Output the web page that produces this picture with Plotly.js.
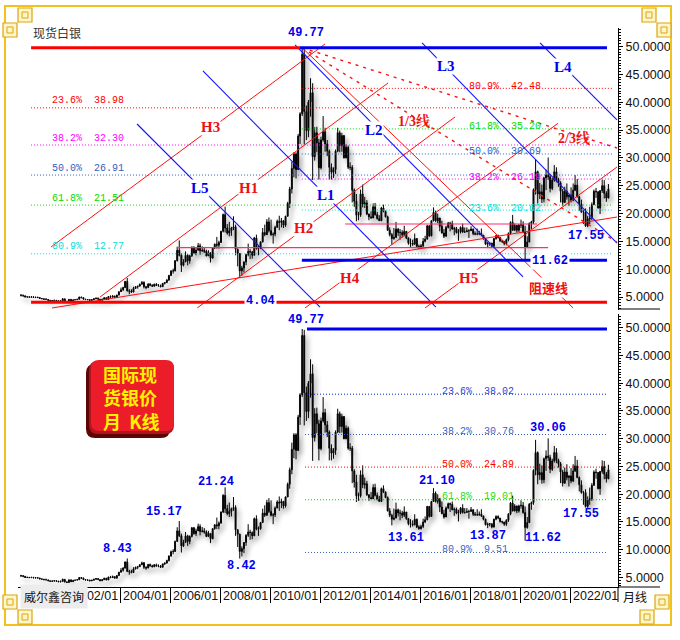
<!DOCTYPE html>
<html><head><meta charset="utf-8">
<script src="https://cdn.plot.ly/plotly-3.0.1.min.js"></script>
<style>
html,body{margin:0;padding:0;background:#fff;}
#chart{width:680px;height:640px;}
#chart .boxlayer{filter:drop-shadow(3px 4px 2.5px rgba(70,70,70,0.45));}
</style></head><body><div id="chart"></div>
<script>
// ---------- DATA (monthly silver spot, 2000-01 .. 2023-07) ----------
const startYear = 2000;
const firstOpen = 5.40;
const closes = [
5.30,5.22,5.00,5.02,4.98,5.03,4.93,4.97,4.90,4.74,4.70,4.58,
4.57,4.40,4.31,4.37,4.41,4.33,4.22,4.33,4.67,4.22,4.10,4.58,
4.24,4.49,4.53,4.60,5.00,4.88,4.62,4.55,4.55,4.39,4.50,4.68,
4.80,4.62,4.40,4.60,4.88,4.55,5.08,4.98,5.15,4.88,5.35,5.96,
6.30,6.70,7.80,6.10,6.05,5.90,6.55,6.85,6.95,7.30,7.65,6.85,
6.70,7.35,7.10,6.95,7.30,7.05,7.05,6.85,7.45,7.60,8.05,8.85,
9.65,9.70,11.50,13.40,12.50,10.70,11.30,12.50,11.50,12.40,13.95,12.90,
13.40,14.20,13.30,13.40,13.20,12.40,12.95,12.00,13.80,14.50,14.30,14.80,
16.80,19.80,17.40,16.50,16.90,17.40,17.60,13.60,12.80,9.70,10.20,11.30,
12.60,13.20,13.10,12.50,15.60,13.70,13.80,14.90,16.60,16.20,18.50,16.90,
16.20,16.30,17.50,18.60,18.40,18.70,17.90,19.50,21.80,24.40,28.10,30.70,
27.90,33.90,37.90,48.60,38.30,34.90,40.00,41.70,30.20,34.50,32.70,28.20,
33.20,34.70,32.50,31.20,28.30,27.40,27.90,31.20,34.50,32.20,34.00,30.00,
31.90,28.30,28.30,24.20,22.20,19.70,19.70,23.50,21.70,21.90,19.90,19.40,
19.20,21.20,19.80,19.10,18.70,21.00,20.40,19.40,17.00,16.20,15.50,15.70,
17.20,16.60,16.60,16.20,16.80,15.60,14.70,14.60,14.50,15.50,14.10,13.80,
14.20,15.00,15.40,17.80,16.00,18.70,20.20,18.70,19.20,17.70,16.50,15.90,
17.50,18.30,18.20,17.20,17.30,16.60,16.70,17.50,16.70,16.70,16.90,16.90,
17.20,16.40,16.30,16.30,16.40,16.10,15.50,14.50,14.60,14.70,14.10,15.50,
16.00,15.70,15.10,15.00,14.60,15.30,16.40,18.40,17.00,17.90,17.00,17.90,
18.00,16.70,14.00,14.90,18.20,18.50,24.30,27.50,23.50,23.90,22.60,26.40,
26.90,26.60,24.50,26.00,27.50,26.10,25.50,24.00,22.00,24.00,23.00,23.30,
22.40,24.20,25.10,23.00,21.70,20.30,20.30,17.80,19.00,19.20,21.60,24.00,
23.90,21.00,24.10,25.00,23.60,22.80,24.40];
const highs = [
5.45,5.45,5.20,5.15,5.10,5.10,5.10,5.00,5.05,4.95,4.80,4.70,
4.80,4.62,4.48,4.45,4.50,4.45,4.40,4.40,4.80,4.70,4.25,4.62,
4.60,4.52,4.60,4.65,5.05,5.05,5.00,4.65,4.62,4.55,4.60,4.78,
4.90,4.90,4.65,4.70,4.95,4.90,5.15,5.30,5.35,5.25,5.40,5.98,
6.70,6.85,7.90,8.43,6.40,6.40,6.85,6.95,7.00,7.40,7.85,7.80,
7.00,7.45,7.50,7.30,7.40,7.50,7.35,7.25,7.50,7.70,8.20,9.00,
9.85,10.10,11.65,14.05,15.17,12.90,11.80,13.20,12.70,12.60,14.10,14.10,
13.80,14.70,14.60,14.10,13.90,13.50,13.40,13.00,13.90,14.60,15.80,15.10,
16.90,20.00,21.24,18.10,18.50,17.60,19.50,18.00,13.70,12.90,10.60,11.40,
12.80,14.60,13.60,13.30,15.80,16.20,14.20,15.00,17.40,18.00,19.00,19.30,
18.90,16.60,17.80,18.90,19.60,19.20,18.80,19.60,22.10,24.80,29.30,31.00,
31.00,34.30,38.20,49.77,49.60,39.40,40.40,44.30,43.40,35.50,35.60,33.40,
33.80,37.50,35.40,33.20,31.50,29.00,28.30,31.50,35.40,34.90,34.50,33.90,
32.40,32.20,29.20,28.70,24.50,23.50,20.30,24.30,25.20,23.00,22.40,20.00,
20.40,21.80,21.90,20.30,19.70,21.20,21.60,20.50,19.60,17.50,16.50,17.40,
18.50,17.40,17.20,17.00,17.80,16.80,15.70,15.50,15.30,16.40,15.60,14.40,
14.50,15.60,16.00,17.90,17.70,18.80,21.10,20.50,20.00,19.20,18.70,17.20,
17.80,18.50,18.50,18.70,17.60,17.60,17.20,17.70,18.20,17.50,17.50,17.20,
17.70,17.30,16.80,17.30,16.90,17.30,16.10,15.60,14.90,14.80,14.70,15.60,
16.20,16.20,15.60,15.20,15.00,15.50,16.60,18.60,19.75,18.20,17.90,18.10,
18.90,18.60,17.80,15.90,18.40,18.70,24.50,29.80,27.70,25.50,25.20,26.60,
27.90,30.06,27.10,26.40,28.70,28.30,26.40,25.80,24.40,24.80,25.40,23.40,
24.70,25.40,26.90,26.20,23.20,22.50,20.60,20.90,19.60,21.20,22.00,24.30,
24.60,24.00,24.20,26.10,26.00,24.00,25.30];
const lows = [
5.10,5.05,4.95,4.95,4.90,4.90,4.90,4.82,4.85,4.70,4.60,4.55,
4.52,4.38,4.30,4.28,4.30,4.30,4.20,4.12,4.18,4.10,4.05,4.10,
4.20,4.20,4.45,4.50,4.55,4.80,4.55,4.45,4.40,4.35,4.40,4.50,
4.60,4.55,4.35,4.40,4.55,4.50,4.55,4.90,4.95,4.85,4.85,5.30,
5.90,6.05,6.60,6.00,5.50,5.75,5.85,6.45,6.50,6.90,7.25,6.55,
6.40,6.70,6.95,6.80,6.85,7.00,6.85,6.75,6.80,7.25,7.50,7.90,
8.80,9.20,9.60,11.40,12.30,9.50,10.50,11.30,10.70,11.00,12.20,12.70,
12.50,13.40,12.60,13.10,12.90,12.30,12.40,11.20,11.90,13.60,13.70,13.70,
14.70,16.60,16.60,16.20,15.90,16.00,17.00,12.50,10.50,8.42,8.80,9.40,
10.70,12.30,11.80,11.90,12.50,13.50,12.50,13.60,14.80,15.90,16.60,16.60,
16.00,14.60,15.90,17.50,17.00,17.50,17.40,17.60,19.50,21.00,23.60,26.50,
26.30,27.80,32.50,37.50,32.40,33.20,33.70,37.40,26.00,29.50,31.00,26.10,
27.90,32.90,31.10,30.30,26.10,26.10,26.40,27.10,31.00,31.00,31.10,29.90,
29.90,28.00,27.80,22.00,21.20,18.60,18.80,19.40,21.10,21.00,19.70,18.80,
19.10,19.30,19.60,18.90,18.70,18.70,20.20,19.30,16.90,15.90,14.40,15.30,
15.70,16.00,15.30,15.70,15.90,15.40,14.40,14.00,14.20,14.40,13.90,13.61,
13.65,13.90,14.80,15.30,15.80,15.90,18.60,18.50,18.30,16.80,16.40,15.60,
15.90,17.30,16.80,17.10,16.10,16.40,15.10,16.40,16.50,16.50,16.70,15.60,
16.90,16.10,16.10,16.10,16.10,15.90,15.30,14.40,13.90,14.20,13.87,14.00,
15.30,15.50,14.90,14.70,14.30,14.30,15.00,16.20,16.90,16.90,16.60,16.70,
17.40,16.50,11.62,13.80,14.80,17.20,18.10,23.40,21.80,22.60,21.90,22.00,
24.20,26.00,23.80,24.20,25.70,25.60,24.80,22.00,21.40,21.90,22.50,21.40,
22.00,22.20,24.00,22.90,20.50,20.10,18.10,17.60,17.55,18.10,18.80,21.50,
22.80,20.90,19.90,23.70,22.70,22.10,22.70];

// axis ticks
const tickDates  = ['2002-01-01','2004-01-01','2006-01-01','2008-01-01','2010-01-01','2012-01-01','2014-01-01','2016-01-01','2018-01-01','2020-01-01','2022-01-01'];
const tickLabels = ['2002/01','2004/01','2006/01','2008/01','2010/01','2012/01','2014/01','2016/01','2018/01','2020/01','2022/01'];
const yTicks = [5,10,15,20,25,30,35,40,45,50];

// key levels
const peakHigh = 49.77, bottomLow = 4.04, low2020 = 11.62;
const pinkLevels = [13.87, 18.12];

// Fibonacci levels
const fibPctTopL = ['23.6%','38.2%','50.0%','61.8%','80.9%'];
const fibValTopL = [38.98, 32.30, 26.91, 21.51, 12.77];
const fibPctTopR = ['80.9%','61.8%','50.0%','38.2%','23.6%'];
const fibValTopR = [42.48, 35.20, 30.69, 26.19, 20.62];
const fibPctBot  = ['23.6%','38.2%','50.0%','61.8%','80.9%'];
const fibValBot  = [38.02, 30.76, 24.89, 19.01, 9.51];

// trend lines [date0, price0, date1, price1]
const redLines = {
  H3:['2001-03-28',13.98,'2012-03-14',50.45],
  H1:['2003-03-14',5.00,'2014-09-20',43.44],
  H2:['2007-02-01',3.03,'2017-05-26',37.34],
  H4:['2011-05-26',3.03,'2021-07-08',36.20],
  H5:['2016-03-14',3.03,'2023-11-17',28.35],
  base:['2001-04-12',3.03,'2023-11-17',19.37],
  zs:['2011-04-15',49.77,'2022-02-14',3.03]
};
const blueLines = {
  L5:['2004-09-05',36.08,'2012-01-01',3.2],
  L1:['2007-04-26',45.60,'2016-08-20',3.2],
  L2:['2011-01-01',50.27,'2020-02-14',8.6],
  L3:['2016-01-30',50.63,'2023-11-17',14.7],
  L4:['2020-10-19',50.63,'2023-11-17',36.8]
};
const fanLines = [
  ['2011-04-15',49.77,'2023-11-17',31.77],
  ['2011-04-15',49.77,'2023-11-17',14.87]
];

// ---------- BUILD ----------
const n = closes.length;
const dates = [], opens = [];
for (let i = 0; i < n; i++) {
  const y = startYear + Math.floor(i / 12), m = i % 12 + 1;
  dates.push(y + '-' + String(m).padStart(2, '0') + '-15');
  opens.push(i === 0 ? firstOpen : closes[i - 1]);
}
const candleStyle = {line:{color:'#000', width:1}, fillcolor:'#000'};
function candles(ya){
  return {type:'candlestick', x:dates, open:opens, high:highs, low:lows, close:closes,
    xaxis:'x', yaxis:ya, increasing:candleStyle, decreasing:candleStyle,
    whiskerwidth:0, hoverinfo:'skip', showlegend:false};
}
const data = [candles('y'), candles('y2')];

const PX = x => (x - 18) / 600;
const PY = y => (587 - y) / 559;

const shapes = [];
function hline(ya, v, x0, x1, color, width, dash){
  shapes.push({type:'line', xref:'x', yref:ya, x0:x0, x1:x1, y0:v, y1:v,
    line:{color:color, width:width, dash:dash||'solid'}});
}
function seg(ya, s, color, width, dash){
  shapes.push({type:'line', xref:'x', yref:ya, x0:s[0], y0:s[1], x1:s[2], y1:s[3],
    line:{color:color, width:width, dash:dash||'solid'}});
}
const DOT = '1px,2px';
const topLcol = ['#FF0000','#FF00FF','#2F5FC0','#00DD00','#00E0E0'];
const topRcol = ['#FF0000','#00DD00','#2F5FC0','#FF00FF','#00E0E0'];
const botCol  = ['#0022DD','#2F5FC0','#FF0000','#00CC00','#2F5FC0'];
const botTxt  = ['#1E46D8','#3366C4','#FF0000','#22DD22','#3366C4'];

// top fib lines
fibValTopL.forEach((v,i)=>hline('y', v, '2000-06-10', '2023-09-06', topLcol[i], 1, DOT));
fibValTopR.forEach((v,i)=>hline('y', v, '2011-04-10', '2023-09-06', topRcol[i], 1, DOT));
// pink levels
hline('y', pinkLevels[0], '2006-04-10', '2021-02-14', '#FF2D6F', 1.2);
hline('y', pinkLevels[1], '2013-01-01', '2020-09-05', '#FF2D6F', 1.2);
// trend lines
Object.values(redLines).forEach(s=>seg('y', s, '#FF1010', 1));
Object.values(blueLines).forEach(s=>seg('y', s, '#1414FF', 1.1));
fanLines.forEach(s=>seg('y', s, '#FF1010', 1.4, '3px,5px'));
// thick levels
hline('y', peakHigh, '2000-06-10', '2011-03-14', '#FF0000', 3);
hline('y', peakHigh, '2011-03-14', '2023-06-24', '#0000EE', 3);
hline('y', bottomLow, '2000-06-10', '2023-06-24', '#FF0000', 3);
hline('y', low2020, '2011-04-10', '2023-06-24', '#0000EE', 3);
// bottom panel
fibValBot.forEach((v,i)=>hline('y2', v, '2011-05-26', '2023-06-24', botCol[i], 1, DOT));
hline('y2', peakHigh, '2011-06-24', '2023-06-24', '#0000EE', 3);

// paper decorations
function prect(x0,y0,x1,y1,fill,lc,lw){
  shapes.push({type:'rect', xref:'paper', yref:'paper', x0:PX(x0), x1:PX(x1), y0:PY(y1), y1:PY(y0),
    fillcolor:fill, line:{color:lc, width:lw}});
}
function pline(x0,y0,x1,y1,c,w){
  shapes.push({type:'line', xref:'paper', yref:'paper', x0:PX(x0), x1:PX(x1), y0:PY(y0), y1:PY(y1), line:{color:c, width:w}});
}
function rrect(x0,y0,x1,y1,r,fill){
  const p = (x,y)=>PX(x)+','+PY(y);
  const path = 'M'+p(x0+r,y0)+' L'+p(x1-r,y0)+' Q'+p(x1,y0)+' '+p(x1,y0+r)+
    ' L'+p(x1,y1-r)+' Q'+p(x1,y1)+' '+p(x1-r,y1)+' L'+p(x0+r,y1)+' Q'+p(x0,y1)+' '+p(x0,y1-r)+
    ' L'+p(x0,y0+r)+' Q'+p(x0,y0)+' '+p(x0+r,y0)+' Z';
  shapes.push({type:'path', xref:'paper', yref:'paper', path:path, fillcolor:fill, line:{width:0}});
}
// frame
prect(5,6,671,625,'rgba(0,0,0,0)','#F2C21B',2);
const orn = [[18,8],[3,23],[642,8],[657,23],[3,595],[18,610],[655,595],[640,610]];
orn.forEach(o=>{ prect(o[0],o[1],o[0]+14,o[1]+14,'#FFF6C8','#D9A514',1.2);
  prect(o[0]+4,o[1]+4,o[0]+10,o[1]+10,'rgba(0,0,0,0)','#D9A514',1); });
// axis extras
pline(618,587,660,587,'#000',1);
pline(618,587,618,602,'#000',1);
pline(618,309,660,309,'#000',1);
// red title box
rrect(86,364,170,438,9,'#5E0606');
rrect(89,361,174,434,9,'#B0141C');
rrect(91,360,174,431,8,'#EC1C28');

const annotations = [];
function ann(o){ annotations.push(Object.assign({showarrow:false, xanchor:'center', yanchor:'middle'}, o)); }
const MONO = 'Liberation Mono, DejaVu Sans Mono, monospace';
const SERIF = 'Liberation Serif, Noto Serif CJK SC, Noto Sans CJK SC, serif';
const CJK = 'Noto Sans CJK SC, sans-serif';
const NB = '\u00a0\u00a0';

// fib labels
fibValTopL.forEach((v,i)=>ann({xref:'x', yref:'y', x:'2001-03-14', y:v, yshift:7, xanchor:'left',
  text:fibPctTopL[i]+NB+v.toFixed(2), font:{family:MONO, size:10, color:topLcol[i]}}));
fibValTopR.forEach((v,i)=>ann({xref:'x', yref:'y', x:'2017-11-18', y:v, yshift:2, xanchor:'left',
  text:fibPctTopR[i]+NB+v.toFixed(2), font:{family:MONO, size:10, color:topRcol[i]}}));
fibValBot.forEach((v,i)=>ann({xref:'x', yref:'y2', x:'2016-10-20', y:v, yshift:3, xanchor:'left',
  text:fibPctBot[i]+NB+v.toFixed(2), font:{family:MONO, size:10, color:botTxt[i]}}));

// letter labels
const letterLabels = [
  ['H3','2007-08-20',35.54,'#EE1111'],['H1','2009-02-14',24.58,'#EE1111'],['H2','2011-05-10',17.4,'#EE1111'],
  ['H4','2013-03-14',8.41,'#EE1111'],['H5','2017-12-02',8.41,'#EE1111'],
  ['L5','2007-03-14',24.58,'#0000EE'],['L1','2012-03-28',23.32,'#0000EE'],['L2','2014-02-28',35.0,'#0000EE'],
  ['L3','2017-01-15',46.5,'#0000EE'],['L4','2021-09-20',46.32,'#0000EE']];
letterLabels.forEach(l=>ann({xref:'x', yref:'y', x:l[1], y:l[2], text:'<b>'+l[0]+'</b>', bgcolor:'#FFFFFF', borderpad:0,
  font:{family:SERIF, size:15, color:l[3]}}));
ann({xref:'x', yref:'y', x:'2015-10-05', y:36.62, text:'<b>1/3线</b>', font:{family:SERIF, size:14, color:'#EE1111'}});
ann({xref:'x', yref:'y', x:'2022-02-28', y:33.56, text:'<b>2/3线</b>', font:{family:SERIF, size:14, color:'#EE1111'}});
ann({xref:'x', yref:'y', x:'2021-02-14', y:6.8, text:'<b>阻速线</b>', bgcolor:'#FFFFFF', borderpad:0, font:{family:CJK, size:13, color:'#EE1111'}});

// value labels
const BL = '#0000EE';
function vlab(ya,x,y,t,bg){ ann({xref:'x', yref:ya, x:x, y:y, text:'<b>'+t+'</b>', bgcolor:bg||'rgba(0,0,0,0)', borderpad:1,
  font:{family:MONO, size:12, color:BL}}); }
vlab('y','2011-06-10',52.43,peakHigh.toFixed(2));
vlab('y','2009-08-20',4.2,bottomLow.toFixed(2),'#FFFFFF');
vlab('y','2021-03-14',11.5,low2020.toFixed(2),'#FFFFFF');
vlab('y','2022-08-20',15.96,'17.55');
vlab('y2','2003-11-18',10.13,'8.43');
vlab('y2','2005-10-05',16.79,'15.17');
vlab('y2','2007-11-02',22.19,'21.24');
vlab('y2','2008-11-02',7.07,'8.42');
vlab('y2','2011-06-10',51.35,peakHigh.toFixed(2));
vlab('y2','2015-06-10',12.11,'13.61');
vlab('y2','2016-09-05',22.37,'21.10');
vlab('y2','2018-09-20',12.47,'13.87');
vlab('y2','2020-12-02',12.11,low2020.toFixed(2));
vlab('y2','2021-02-14',31.91,'30.06');
vlab('y2','2022-06-10',16.43,'17.55');

// x tick labels
tickDates.forEach((d,i)=>ann({xref:'x', yref:'paper', x:d, y:PY(596), xanchor:'left', xshift:1,
  text:tickLabels[i], font:{family:'Liberation Sans, Arial, sans-serif', size:12.5, color:'#111'}}));
ann({xref:'paper', yref:'paper', x:PX(621), y:PY(596), xanchor:'left', text:'月线', font:{family:CJK, size:12, color:'#111'}});
// titles / boxes
ann({xref:'paper', yref:'paper', x:PX(31), y:PY(32), xanchor:'left', text:'现货白银', font:{family:CJK, size:12, color:'#333'}});
ann({xref:'paper', yref:'paper', x:PX(54), y:PY(596), text:'威尔鑫咨询', bgcolor:'#ECECEC', borderpad:3,
  font:{family:CJK, size:12, color:'#111'}});
ann({xref:'paper', yref:'paper', x:PX(101), y:PY(397), xanchor:'left', align:'left',
  text:'<b>国际现<br>货银价<br>月\u00a0\u00a0K线</b>', font:{family:CJK, size:18, color:'#FFF200'}});

const yaxisBase = {side:'right', anchor:'x', showgrid:false, zeroline:false, showline:true, linecolor:'#000', linewidth:1,
  ticks:'outside', ticklen:4, tickcolor:'#000', tickvals:yTicks, tickformat:'.4f',
  tickfont:{family:'Liberation Sans, Arial, sans-serif', size:12.5, color:'#111'},
  minor:{dtick:0.5, ticks:'outside', ticklen:2, tickcolor:'#000'}, fixedrange:true};

const layout = {
  width:680, height:640, margin:{l:18, r:62, t:28, b:53},
  paper_bgcolor:'#FFFFFF', plot_bgcolor:'#FFFFFF', showlegend:false,
  xaxis:{type:'date', range:['1999-12-02','2023-12-02'], anchor:'y2', showgrid:false, zeroline:false,
    showline:true, linecolor:'#000', linewidth:1, ticks:'outside', ticklen:15, tickcolor:'#000',
    tickvals:tickDates, showticklabels:false, rangeslider:{visible:false}, fixedrange:true},
  yaxis:Object.assign({}, yaxisBase, {domain:[0.4955,1], range:[2.667,53.32]}),
  yaxis2:Object.assign({}, yaxisBase, {domain:[0,0.488], range:[3.29,52.43]}),
  shapes:shapes, annotations:annotations
};
Plotly.newPlot('chart', data, layout, {displayModeBar:false, staticPlot:true});
</script></body></html>
